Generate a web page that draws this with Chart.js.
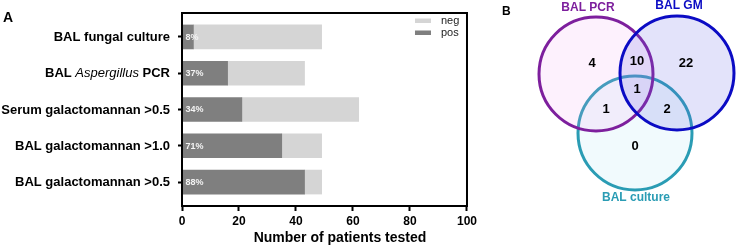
<!DOCTYPE html>
<html>
<head>
<meta charset="utf-8">
<script src="https://cdn.jsdelivr.net/npm/chart.js@4/dist/chart.umd.min.js"></script>
<style>
  html, body { margin: 0; padding: 0; background: #fff; }
  #wrap { position: relative; width: 738px; height: 247px; }
  #barChart { position: absolute; left: 0; top: 0; }
  #vennChart { position: absolute; left: 480px; top: 0; }
</style>
</head>
<body>
<div id="wrap">
  <canvas id="barChart" width="480" height="247"></canvas>
  <canvas id="vennChart" width="258" height="247"></canvas>
</div>
<script>
// panel A data
const tests = ["BAL fungal culture", "BAL Aspergillus PCR", "Serum galactomannan >0.5", "BAL galactomannan >1.0", "BAL galactomannan >0.5"];
const posCounts = [4, 16, 21, 35, 43];
const negCounts = [45, 27, 41, 14, 6];
const xTicks = [0, 20, 40, 60, 80, 100];

// panel B data
const vennSets = ["BAL PCR", "BAL GM", "BAL culture"];
const vennRegions = ["PCR", "PCR+GM", "GM", "PCR+GM+culture", "PCR+culture", "GM+culture", "culture"];
const vennCounts = [4, 10, 22, 1, 1, 2, 0];

const FONT = '"Liberation Sans", Arial, sans-serif';

// ---------- panel A ----------
const barDecor = {
  id: "barDecor",
  afterDatasetsDraw(chart) {
    const ctx = chart.ctx;
    const meta = chart.getDatasetMeta(0);
    ctx.save();
    ctx.font = "bold 9px " + FONT;
    ctx.fillStyle = "#f4f4f4";
    ctx.textAlign = "left";
    ctx.textBaseline = "middle";
    meta.data.forEach((bar, i) => {
      const pct = Math.round(posCounts[i] / (posCounts[i] + negCounts[i]) * 100);
      ctx.fillText(pct + "%", bar.base + 3, bar.y + 0.5);
    });
    ctx.restore();
  },
  afterDraw(chart) {
    const ctx = chart.ctx;
    const a = chart.chartArea;
    const yScale = chart.scales.y;
    ctx.save();

    // box round the plot
    ctx.strokeStyle = "#000";
    ctx.lineWidth = 2;
    ctx.strokeRect(a.left, a.top, a.right - a.left, a.bottom - a.top);

    // category labels, with the genus in italics
    ctx.fillStyle = "#000";
    ctx.textBaseline = "middle";
    tests.forEach((t, i) => {
      const parts = t.split(/(Aspergillus)/).filter(s => s.length);
      const fonts = parts.map(p => p === "Aspergillus" ? "italic 13px " + FONT : "bold 13px " + FONT);
      let total = 0;
      parts.forEach((p, k) => { ctx.font = fonts[k]; total += ctx.measureText(p).width; });
      let x = a.left - 12 - total;
      const y = yScale.getPixelForValue(i) + 0.5;
      parts.forEach((p, k) => {
        ctx.font = fonts[k];
        ctx.textAlign = "left";
        ctx.fillText(p, x, y);
        x += ctx.measureText(p).width;
      });
    });

    // legend in the top right corner, neg above pos
    const items = chart.data.datasets.slice().reverse();
    ctx.font = "11px " + FONT;
    items.forEach((ds, k) => {
      const y = a.top + 7.5 + k * 12;
      ctx.fillStyle = ds.backgroundColor;
      ctx.fillRect(a.right - 52, y - 2, 16, 4.5);
      ctx.fillStyle = "#222";
      ctx.textAlign = "left";
      ctx.fillText(ds.label, a.right - 26, y);
    });

    // axis title
    ctx.font = "bold 14px " + FONT;
    ctx.fillStyle = "#000";
    ctx.textAlign = "center";
    ctx.fillText("Number of patients tested", a.left + 158, 238);

    // panel letter
    ctx.font = "bold 14px " + FONT;
    ctx.textAlign = "left";
    ctx.fillText("A", 3, 18);
    ctx.restore();
  }
};

new Chart(document.getElementById("barChart"), {
  type: "bar",
  data: {
    datasets: [
      {
        label: "pos",
        data: posCounts.map((v, i) => ({ x: v, y: i })),
        backgroundColor: "#7f7f7f",
        barThickness: 24,
      },
      {
        label: "neg",
        data: negCounts.map((v, i) => ({ x: v, y: i })),
        backgroundColor: "#d5d5d5",
        barThickness: 24,
      },
    ],
  },
  options: {
    indexAxis: "y",
    responsive: false,
    animation: false,
    layout: { autoPadding: false, padding: { top: 13, right: 9, left: 0, bottom: 0 } },
    scales: {
      x: {
        type: "linear",
        stacked: true,
        min: 0,
        max: 100,
        afterBuildTicks: s => { s.ticks = xTicks.map(v => ({ value: v })); },
        afterFit: s => { s.height = 41; },
        ticks: { color: "#000", padding: 3, font: { family: FONT, size: 12, weight: "bold" } },
        grid: { drawOnChartArea: false, tickLength: 5, tickWidth: 2, tickColor: "#000" },
        border: { color: "#000", width: 2 },
      },
      y: {
        type: "linear",
        stacked: true,
        reverse: true,
        offset: false,
        min: -0.66,
        max: 4.66,
        afterBuildTicks: s => { s.ticks = tests.map((t, i) => ({ value: i })); },
        afterFit: s => { s.width = 182; },
        ticks: { callback: () => "" },
        grid: { offset: false, drawOnChartArea: false, tickLength: 4, tickWidth: 2, tickColor: "#000" },
        border: { color: "#000", width: 2 },
      },
    },
    plugins: { legend: { display: false }, tooltip: { enabled: false } },
  },
  plugins: [barDecor],
});

// ---------- panel B ----------
// where the circles and numbers sit, in canvas pixels
const vennLayout = {
  "BAL PCR":     { cx: 116, cy: 74,  r: 57, stroke: "#7d1f9d", fill: "rgba(240,160,240,0.15)", order: 1, label: [108, 8] },
  "BAL GM":      { cx: 197, cy: 73,  r: 57, stroke: "#0b0bc4", fill: "rgba(100,100,230,0.18)", order: 0, label: [199, 6] },
  "BAL culture": { cx: 155, cy: 133, r: 57, stroke: "#2a9cb4", fill: "rgba(140,210,240,0.12)", order: 2, label: [156, 198] },
};
const regionSpots = {
  "PCR": [112, 63], "PCR+GM": [157, 61], "GM": [206, 63], "PCR+GM+culture": [157, 89],
  "PCR+culture": [126, 109], "GM+culture": [187, 109], "culture": [155, 146],
};

const vennText = {
  id: "vennText",
  afterDraw(chart) {
    const ctx = chart.ctx;
    const xs = chart.scales.x, ys = chart.scales.y;
    ctx.save();
    ctx.textAlign = "center";
    ctx.textBaseline = "middle";
    ctx.font = "bold 13px " + FONT;
    ctx.fillStyle = "#000";
    vennRegions.forEach((r, i) => {
      const p = regionSpots[r];
      ctx.fillText(String(vennCounts[i]), xs.getPixelForValue(p[0]), ys.getPixelForValue(p[1]));
    });
    ctx.font = "bold 12px " + FONT;
    vennSets.forEach(s => {
      const L = vennLayout[s];
      ctx.fillStyle = L.stroke;
      ctx.fillText(s, xs.getPixelForValue(L.label[0]), ys.getPixelForValue(L.label[1]));
    });
    ctx.fillStyle = "#000";
    ctx.textAlign = "left";
    ctx.fillText("B", 22, 12);
    ctx.restore();
  }
};

new Chart(document.getElementById("vennChart"), {
  type: "bubble",
  data: {
    datasets: vennSets.map(s => {
      const L = vennLayout[s];
      return {
        label: s,
        data: [{ x: L.cx, y: L.cy, r: L.r }],
        backgroundColor: L.fill,
        borderColor: L.stroke,
        borderWidth: 3,
        order: L.order,
        clip: false,
      };
    }),
  },
  options: {
    responsive: false,
    animation: false,
    layout: { autoPadding: false, padding: 0 },
    scales: {
      x: { type: "linear", min: 0, max: 258, display: false },
      y: { type: "linear", min: 0, max: 247, reverse: true, display: false },
    },
    plugins: { legend: { display: false }, tooltip: { enabled: false } },
  },
  plugins: [vennText],
});
</script>
</body>
</html>
